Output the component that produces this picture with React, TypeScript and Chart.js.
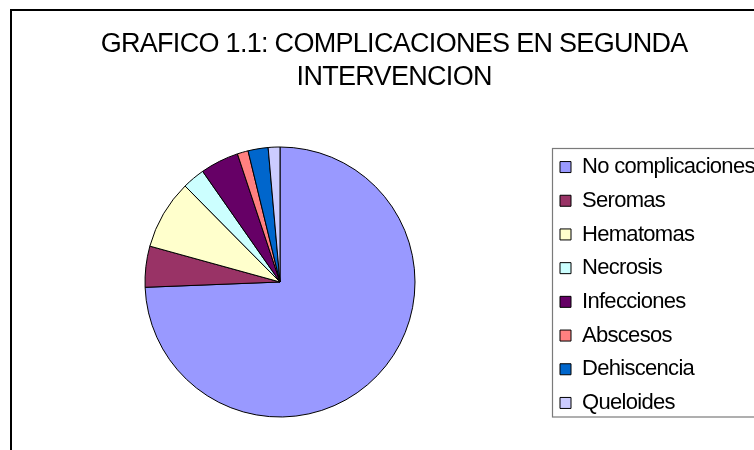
import React, { useEffect, useRef } from 'react';
import { Chart, registerables } from 'chart.js';

Chart.register(...registerables);

const TITLE_LINES = ['GRAFICO 1.1: COMPLICACIONES EN SEGUNDA', 'INTERVENCION'];
const CATEGORIES = [
  'No complicaciones',
  'Seromas',
  'Hematomas',
  'Necrosis',
  'Infecciones',
  'Abscesos',
  'Dehiscencia',
  'Queloides',
];
const VALUES = [74.3, 4.9, 8.3, 2.7, 4.6, 1.3, 2.4, 1.4];
const COLORS = ['#9999FF', '#993366', '#FFFFCC', '#CCFFFF', '#660066', '#FF8080', '#0066CC', '#CCCCFF'];

const FONT = "'Liberation Sans', Arial, Helvetica, sans-serif";
const W = 754;
const H = 450;
const LEG_FS = 22;
const LEG_BOX = 11;
const LEG_PAD = 11.7;
const LEG_BOX_X = 560;
const PIE_CX = 280;
const PIE_R = 135;
const SPACING = '-0.7px';

const framePlugin = {
  id: 'frame',
  beforeDraw(chart: any) {
    const ctx = chart.ctx;
    ctx.save();
    ctx.fillStyle = '#ffffff';
    ctx.fillRect(0, 0, W, H);
    ctx.strokeStyle = '#000000';
    ctx.lineWidth = 2;
    ctx.strokeRect(11, 10, W + 40, H + 40);
    ctx.strokeStyle = '#7a7a7a';
    ctx.lineWidth = 1.2;
    ctx.strokeRect(552.5, 148.5, W, 268.5);
    ctx.restore();
    (ctx as any).letterSpacing = SPACING;
  },
  afterDraw(chart: any) {
    (chart.ctx as any).letterSpacing = '0px';
  },
};

export default function App() {
  const ref = useRef<HTMLCanvasElement | null>(null);

  useEffect(() => {
    const canvas = ref.current;
    if (!canvas) return;
    const mctx = document.createElement('canvas').getContext('2d')!;
    mctx.font = `${LEG_FS}px ${FONT}`;
    let tw = 0;
    for (const c of CATEGORIES) tw = Math.max(tw, mctx.measureText(c).width);
    const legW = LEG_PAD + LEG_BOX + LEG_FS / 2 + tw + 10;
    const legLeft = LEG_BOX_X - LEG_PAD;
    const padR = W - legW - legLeft;
    const padL = 2 * PIE_CX - legLeft;

    const chart = new Chart(canvas, {
      type: 'pie',
      data: {
        labels: CATEGORIES,
        datasets: [
          {
            data: VALUES,
            backgroundColor: COLORS,
            borderColor: '#000000',
            borderWidth: 1,
            radius: PIE_R,
          } as any,
        ],
      },
      options: {
        responsive: false,
        animation: false,
        devicePixelRatio: 1,
        layout: { padding: { left: padL, right: padR, top: 0, bottom: 22 } },
        plugins: {
          tooltip: { enabled: false },
          title: {
            display: true,
            text: TITLE_LINES,
            color: '#000000',
            font: { family: FONT, size: 27, weight: 'normal', lineHeight: '33px' as any },
            padding: { top: 28, bottom: 42 },
          },
          legend: {
            display: true,
            position: 'right',
            fullSize: false,
            align: 'center',
            title: {
              display: true,
              text: ' ',
              font: { size: 1, lineHeight: '6px' as any },
              padding: 0,
            },
            labels: {
              color: '#000000',
              font: { family: FONT, size: LEG_FS },
              boxWidth: LEG_BOX,
              boxHeight: LEG_BOX,
              padding: LEG_PAD,
            },
          },
        },
      },
      plugins: [framePlugin],
    });
    return () => chart.destroy();
  }, []);

  return (
    <div style={{ position: 'absolute', left: 0, top: 0, width: W, height: H, background: '#fff' }}>
      <canvas ref={ref} width={W} height={H} style={{ display: 'block', width: W, height: H }} />
    </div>
  );
}
